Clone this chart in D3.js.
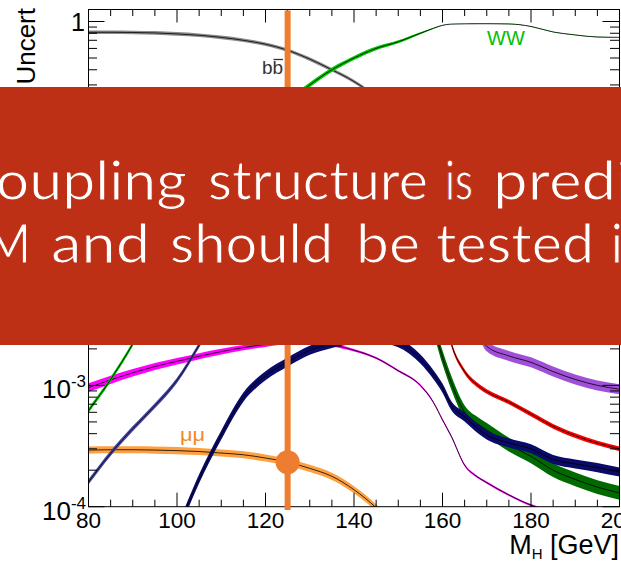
<!DOCTYPE html>
<html>
<head>
<meta charset="utf-8">
<script src="https://cdn.jsdelivr.net/npm/d3@7"></script>
<style>
  html, body { margin: 0; padding: 0; background: #fff; overflow: hidden; }
  svg { display: block; }
</style>
</head>
<body>
<svg id="chart" width="621" height="561"></svg>
<script>
// Higgs boson mass grid (GeV)
const massGeV = [80, 85, 90, 95, 100, 105, 110, 115, 120, 125, 130, 135, 140, 145, 150,
                 155, 158, 160, 162, 165, 168, 170, 175, 180, 185, 190, 195, 200];

// Branching ratios per decay channel, one value per mass point
const brBB   = [0.815, 0.815, 0.812, 0.805, 0.79, 0.77, 0.74, 0.70, 0.65, 0.58, 0.49, 0.40, 0.32, 0.24, 0.17,
                0.10, 0.06, 0.038, 0.02, 0.012, 0.0095, 0.0085, 0.007, 0.0055, 0.0045, 0.0037, 0.003, 0.0026];
const brWW   = [6.2e-4, 1.12e-3, 2.2e-3, 4.8e-3, 0.0108, 0.024, 0.046, 0.086, 0.141, 0.215, 0.30, 0.40, 0.50, 0.60, 0.68,
                0.80, 0.88, 0.93, 0.952, 0.956, 0.958, 0.958, 0.955, 0.91, 0.82, 0.775, 0.745, 0.74];
const brGG   = [0.052, 0.057, 0.061, 0.066, 0.071, 0.075, 0.079, 0.083, 0.086, 0.086, 0.082, 0.076, 0.069, 0.059, 0.048,
                0.034, 0.022, 0.015, 0.0085, 0.0045, 0.0028, 0.0021, 0.00175, 0.00155, 0.0013, 0.00112, 0.001, 0.00093];
const brTauTau = [0.081, 0.082, 0.083, 0.083, 0.083, 0.081, 0.079, 0.075, 0.071, 0.063, 0.054, 0.044, 0.035, 0.026, 0.018,
                0.011, 0.0068, 0.0045, 0.0022, 1.3e-3, 1.0e-3, 8.9e-4, 7.3e-4, 5.8e-4, 4.6e-4, 3.85e-4, 3.35e-4, 3.0e-4];
const brCC   = [0.038, 0.038, 0.038, 0.038, 0.037, 0.036, 0.035, 0.034, 0.032, 0.029, 0.025, 0.02, 0.016, 0.012, 0.0084,
                0.005, 0.003, 1.7e-3, 1.05e-3, 6.0e-4, 4.8e-4, 4.3e-4, 3.25e-4, 2.6e-4, 2.0e-4, 1.68e-4, 1.45e-4, 1.3e-4];
const brZZ   = [1.6e-4, 2.75e-4, 4.4e-4, 6.8e-4, 1.1e-3, 2.15e-3, 4.5e-3, 9e-3, 0.0159, 0.0264, 0.0385, 0.052, 0.064, 0.075, 0.083,
                0.07, 0.05, 0.042, 0.03, 0.022, 0.025, 0.03, 0.045, 0.078, 0.16, 0.21, 0.24, 0.26];
const brZGam = [1e-6, 2e-6, 5e-6, 2.4e-5, 6.3e-5, 1.7e-4, 3.9e-4, 8.0e-4, 1.2e-3, 1.56e-3, 1.95e-3, 2.22e-3, 2.4e-3, 2.45e-3, 2.25e-3,
                1.65e-3, 1.22e-3, 9.5e-4, 6.8e-4, 5.5e-4, 4.4e-4, 3.9e-4, 3.35e-4, 3.0e-4, 2.45e-4, 2.25e-4, 2.1e-4, 1.93e-4];
const brGamGam = [9.6e-4, 1.11e-3, 1.27e-3, 1.43e-3, 1.58e-3, 1.74e-3, 1.9e-3, 2.05e-3, 2.18e-3, 2.28e-3, 2.26e-3, 2.16e-3, 1.95e-3, 1.68e-3, 1.32e-3,
                1.0e-3, 7.2e-4, 5.2e-4, 3.8e-4, 2.2e-4, 1.75e-4, 1.58e-4, 1.25e-4, 1.03e-4, 9.0e-5, 7.8e-5, 7.0e-5, 6.3e-5];
const brMuMu = [2.93e-4, 2.95e-4, 2.95e-4, 2.93e-4, 2.9e-4, 2.85e-4, 2.77e-4, 2.68e-4, 2.52e-4, 2.33e-4, 2.07e-4, 1.78e-4, 1.38e-4, 9.8e-5, 6.2e-5,
                3.6e-5, 2.3e-5, 1.6e-5, 1.0e-5, 5.5e-6, 4.0e-6, 3.7e-6, 3.0e-6, 2.4e-6, 1.9e-6, 1.6e-6, 1.4e-6, 1.2e-6];

// Relative total uncertainty of each channel
const uncWW = [0.045, 0.045, 0.045, 0.045, 0.045, 0.045, 0.045, 0.045, 0.045, 0.045, 0.045, 0.045, 0.04, 0.035, 0.03,
               0.02, 0.01, 0.005, 0.004, 0.004, 0.004, 0.004, 0.004, 0.004, 0.004, 0.004, 0.004, 0.004];
const uncGamGam = [0.085, 0.08, 0.075, 0.07, 0.065, 0.06, 0.055, 0.05, 0.05, 0.045, 0.04, 0.03, 0.025, 0.02, 0.02,
                   0.02, 0.02, 0.02, 0.02, 0.02, 0.02, 0.02, 0.02, 0.02, 0.02, 0.02, 0.02, 0.02];
const uncBB = 0.035, uncGG = 0.10, uncTauTau = 0.045, uncCC = 0.14, uncZZ = 0.05,
      uncZGam = 0.09, uncMuMu = 0.07;

// Axis ticks and labels
const xTickValues = [80, 100, 120, 140, 160, 180, 200];
const yDecades = [-4, -3, -2, -1, 0];
const higgsMass = 125;

// Headline text on the banner
const headlineLine1 = ["Coupling", "structure", "is", "predicted"];
const headlineLine2 = ["SM", "and", "should", "be", "tested", "in"];

// ---------------------------------------------------------------------
const W = 621, H = 561;
const plot = { left: 88.5, right: 619.5, top: 9.5, bottom: 506.7 };
const bannerBox = { y: 87, height: 258 };
const AXIS_FONT = "'Liberation Sans', Arial, Helvetica, sans-serif";

const svg = d3.select("#chart");
svg.append("rect").attr("width", W).attr("height", H).attr("fill", "#fff");

const x = d3.scaleLinear().domain([80, 200]).range([plot.left, plot.right]);
const y = d3.scaleLog().domain([1e-4, 1]).range([plot.bottom, 21.5]);

svg.append("defs").append("clipPath").attr("id", "plotClip")
  .append("rect")
  .attr("x", plot.left).attr("y", plot.top)
  .attr("width", plot.right - plot.left).attr("height", plot.bottom - plot.top);

// Channels, drawn bottom-most first
const channels = [
  { values: brMuMu,   unc: uncMuMu,   fill: "#ffa040" },
  { values: brGamGam, unc: uncGamGam, fill: "#ff00ff" },
  { values: brGG,     unc: uncGG,     fill: "#a050d8" },
  { values: brTauTau, unc: uncTauTau, fill: "#ff0000" },
  { values: brCC,     unc: uncCC,     fill: "#006a00" },
  { values: brZGam,   unc: uncZGam,   fill: "#0a0a6a" },
  { values: brZZ,     unc: uncZZ,     fill: "#4646a2" },
  { values: brBB,     unc: uncBB,     fill: "#8c8c8c" },
  { values: brWW,     unc: uncWW,     fill: "#00c800" }
];

const curves = svg.append("g").attr("clip-path", "url(#plotClip)");
const line = d3.line().x(d => x(d.m)).y(d => y(d.v)).curve(d3.curveMonotoneX);
const band = d3.area()
  .x(d => x(d.m))
  .y0(d => y(d.v / (1 + d.e)))
  .y1(d => y(d.v * (1 + d.e)))
  .curve(d3.curveMonotoneX);

channels.forEach(ch => {
  const pts = massGeV.map((m, i) => ({
    m, v: ch.values[i],
    e: Array.isArray(ch.unc) ? ch.unc[i] : ch.unc
  }));
  curves.append("path").attr("d", band(pts)).attr("fill", ch.fill).attr("stroke", "none");
  curves.append("path").attr("d", line(pts)).attr("fill", "none")
    .attr("stroke", "#000").attr("stroke-width", 0.8);
});

// Frame and ticks on all four sides
const axes = svg.append("g").attr("stroke", "#000").attr("stroke-width", 1).attr("fill", "none");
axes.append("rect")
  .attr("x", plot.left).attr("y", plot.top)
  .attr("width", plot.right - plot.left).attr("height", plot.bottom - plot.top);

d3.range(80, 201, 5).forEach(m => {
  const major = m % 20 === 0;
  const px = x(m);
  axes.append("line").attr("x1", px).attr("x2", px)
    .attr("y1", plot.bottom).attr("y2", plot.bottom - (major ? 14 : 7));
  axes.append("line").attr("x1", px).attr("x2", px)
    .attr("y1", plot.top).attr("y2", plot.top + (major ? 13 : 6.5));
});

const yMinor = [];
yDecades.slice(0, -1).forEach(k => d3.range(2, 10).forEach(f => yMinor.push(f * Math.pow(10, k))));
yMinor.forEach(v => {
  const py = y(v);
  axes.append("line").attr("x1", plot.left).attr("x2", plot.left + 8.5).attr("y1", py).attr("y2", py);
  axes.append("line").attr("x1", plot.right).attr("x2", plot.right - 9.5).attr("y1", py).attr("y2", py);
});
yDecades.forEach(k => {
  const py = y(Math.pow(10, k));
  axes.append("line").attr("x1", plot.left).attr("x2", plot.left + 16).attr("y1", py).attr("y2", py);
  axes.append("line").attr("x1", plot.right).attr("x2", plot.right - 17).attr("y1", py).attr("y2", py);
});

// Tick labels (decades hidden behind the banner are left out)
const labels = svg.append("g").attr("font-family", AXIS_FONT).attr("fill", "#000");
xTickValues.forEach(m => {
  labels.append("text").attr("x", x(m)).attr("y", 528)
    .attr("text-anchor", "middle").attr("font-size", 22.5).text(m);
});
yDecades.forEach(k => {
  const py = y(Math.pow(10, k));
  if (py > bannerBox.y - 10 && py < bannerBox.y + bannerBox.height) return;
  if (k === 0) {
    labels.append("text").attr("x", 85).attr("y", py + 9)
      .attr("text-anchor", "end").attr("font-size", 25).text("1");
  } else {
    const t = labels.append("text").attr("x", 86).attr("y", py + 13)
      .attr("text-anchor", "end").attr("font-size", 26);
    t.append("tspan").text("10");
    t.append("tspan").attr("font-size", 17).attr("dy", -11).text(String(k));
  }
});

// Axis titles
labels.append("text")
  .attr("transform", "translate(35,8) rotate(-90)")
  .attr("text-anchor", "end").attr("font-size", 26)
  .text("Higgs BR + Total Uncert");

const xTitle = labels.append("text").attr("x", 619).attr("y", 554)
  .attr("text-anchor", "end").attr("font-size", 27);
xTitle.append("tspan").text("M");
xTitle.append("tspan").attr("font-size", 15).attr("dy", 5).text("H");
xTitle.append("tspan").attr("dy", -5).text(" [GeV]");

// Channel labels
const chanLabels = svg.append("g").attr("font-family", AXIS_FONT);
chanLabels.append("text").attr("x", 262).attr("y", 74).attr("font-size", 19)
  .attr("fill", "#333").text("bb");
chanLabels.append("line").attr("x1", 273.5).attr("x2", 283).attr("y1", 59.5).attr("y2", 59.5)
  .attr("stroke", "#333").attr("stroke-width", 1.3);
chanLabels.append("text").attr("x", 487).attr("y", 45).attr("font-size", 20)
  .attr("fill", "#00c000").text("WW");
chanLabels.append("text").attr("x", 180).attr("y", 441).attr("font-size", 18)
  .attr("textLength", 25).attr("lengthAdjust", "spacingAndGlyphs")
  .attr("fill", "#f0882a").text("μμ");

// Marker at the measured Higgs mass
const orange = "#ed7d31";
const iH = massGeV.indexOf(higgsMass);
svg.append("line")
  .attr("x1", x(higgsMass)).attr("x2", x(higgsMass))
  .attr("y1", 10.5).attr("y2", 510)
  .attr("stroke", orange).attr("stroke-width", 6);
svg.append("circle")
  .attr("cx", x(higgsMass)).attr("cy", y(brMuMu[iH])).attr("r", 12)
  .attr("fill", orange);

// Banner across the plot
const bannerRed = "#bd3015";
const banner = svg.append("g");
banner.append("rect").attr("x", 0).attr("y", bannerBox.y).attr("width", W).attr("height", bannerBox.height)
  .attr("fill", bannerRed);

const HEAD_FONT = "Lato, 'Open Sans', 'DejaVu Sans', sans-serif";
function word(txt, xPos, yBase, len) {
  banner.append("text")
    .attr("x", xPos).attr("y", yBase)
    .attr("font-family", HEAD_FONT)
    .attr("font-size", 54).attr("fill", "#fff")
    // a thin outline in the banner colour keeps the strokes light
    .attr("stroke", bannerRed).attr("stroke-width", 1.1)
    .attr("textLength", len).attr("lengthAdjust", "spacingAndGlyphs")
    .text(txt);
}
// first line
word(headlineLine1[0], -43, 200, 230);
word(headlineLine1[1], 208, 200, 220);
word(headlineLine1[2], 445, 200, 28);
word(headlineLine1[3], 493, 200, 257);
// second line
word(headlineLine2[0], -42, 263, 73);
word(headlineLine2[1], 51, 263, 99);
word(headlineLine2[2], 170, 263, 163);
word(headlineLine2[3], 356, 263, 64);
word(headlineLine2[4], 436, 263, 158);
word(headlineLine2[5], 611, 263, 39);
</script>
</body>
</html>
